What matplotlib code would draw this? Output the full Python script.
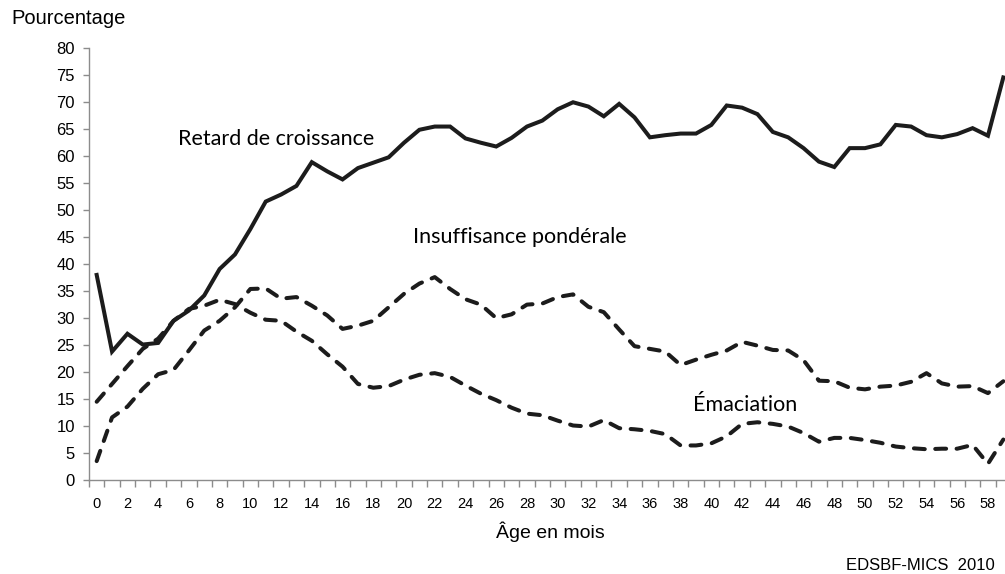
import numpy as np
import matplotlib
matplotlib.use("Agg")
import matplotlib.pyplot as plt

# age in months
ages = np.arange(0, 60)

retard = [38.0, 23.8, 27.1, 25.1, 25.4, 29.5, 31.4, 34.2, 39.1, 41.8,
          46.5, 51.6, 52.9, 54.5, 58.9, 57.2, 55.7, 57.8, 58.8, 59.8,
          62.5, 64.9, 65.5, 65.5, 63.3, 62.5, 61.8, 63.4, 65.5, 66.6,
          68.7, 70.0, 69.2, 67.4, 69.7, 67.2, 63.5, 63.9, 64.2, 64.2,
          65.8, 69.4, 69.0, 67.8, 64.5, 63.5, 61.5, 59.0, 58.0, 61.5,
          61.5, 62.2, 65.8, 65.5, 63.9, 63.5, 64.1, 65.2, 63.8, 74.6]

insuffisance = [3.5, 11.6, 13.6, 16.9, 19.6, 20.4, 24.0, 27.7, 29.5, 32.0,
                35.4, 35.5, 33.6, 33.9, 32.3, 30.5, 28.0, 28.6, 29.5, 32.0,
                34.5, 36.4, 37.6, 35.4, 33.5, 32.5, 30.0, 30.7, 32.5, 32.7,
                33.9, 34.4, 32.1, 31.1, 27.9, 24.8, 24.3, 23.8, 21.3, 22.3,
                23.2, 24.0, 25.6, 24.9, 24.1, 24.0, 22.2, 18.4, 18.3, 17.1,
                16.8, 17.3, 17.5, 18.2, 19.8, 17.9, 17.3, 17.4, 16.1, 18.3]

emaciation = [14.5, 17.8, 21.1, 24.3, 26.2, 29.5, 31.7, 32.3, 33.4, 32.6,
              31.0, 29.7, 29.5, 27.5, 25.8, 23.3, 21.0, 17.8, 17.1, 17.4,
              18.6, 19.5, 19.8, 19.1, 17.5, 16.0, 14.8, 13.4, 12.3, 12.0,
              11.0, 10.1, 9.9, 11.1, 9.6, 9.4, 9.1, 8.5, 6.4, 6.4,
              6.8, 8.1, 10.4, 10.7, 10.4, 9.9, 8.7, 7.1, 7.8, 7.8,
              7.4, 6.9, 6.2, 5.9, 5.7, 5.8, 5.8, 6.5, 3.0, 7.5]

sans = ["Liberation Sans", "DejaVu Sans"]
label_font = ["Lato", "DejaVu Sans"]
ink = "#1c1c1c"
axis_grey = "#8c8c8c"

fig = plt.figure(figsize=(10.05, 5.74), dpi=100)
ax = fig.add_axes([89 / 1005, 94 / 574, 922 / 1005, 431.7 / 574])

ax.plot(ages, retard, color=ink, lw=2.9, solid_joinstyle="miter")
ax.plot(ages, insuffisance, color=ink, lw=2.9, dashes=(2.7, 2.6),
        dash_capstyle="round")
ax.plot(ages, emaciation, color=ink, lw=2.9, dashes=(2.7, 2.6),
        dash_capstyle="round")

ax.set_xlim(-0.5, 59.5)
ax.set_ylim(0, 80)

ax.set_yticks(np.arange(0, 81, 5))
ax.set_xticks(ages[::2])
ax.set_xticks(np.arange(-0.5, 60, 1), minor=True)
ax.tick_params(axis="x", which="major", length=0, pad=12)
ax.tick_params(axis="x", which="minor", length=5, width=1, color=axis_grey)
ax.tick_params(axis="y", length=4, width=1, color=axis_grey, pad=6)
for lab in ax.get_xticklabels():
    lab.set_fontfamily(sans)
    lab.set_fontsize(10.5)
for lab in ax.get_yticklabels():
    lab.set_fontfamily(sans)
    lab.set_fontsize(12)

for side in ["top", "right"]:
    ax.spines[side].set_visible(False)
for side in ["left", "bottom"]:
    ax.spines[side].set_color(axis_grey)
    ax.spines[side].set_linewidth(1)

ax.text(5.3, 62.1, "Retard de croissance", family=label_font, fontsize=15.5,
        ha="left", va="baseline", color="black")
ax.text(20.6, 44.0, "Insuffisance pondérale", family=label_font, fontsize=15.5,
        ha="left", va="baseline", color="black")
ax.text(38.8, 12.85, "Émaciation", family=label_font, fontsize=15.5,
        ha="left", va="baseline", color="black")

fig.text(11 / 1005, 1 - 18 / 574, "Pourcentage", family=sans, fontsize=14.5,
         ha="left", va="center")
fig.text(550 / 1005, 1 - 532 / 574, "Âge en mois", family=sans, fontsize=14,
         ha="center", va="center")
fig.text(995 / 1005, 1 - 566 / 574, "EDSBF-MICS  2010", family=sans,
         fontsize=12, ha="right", va="center")

fig.savefig("out.png", dpi=100)
